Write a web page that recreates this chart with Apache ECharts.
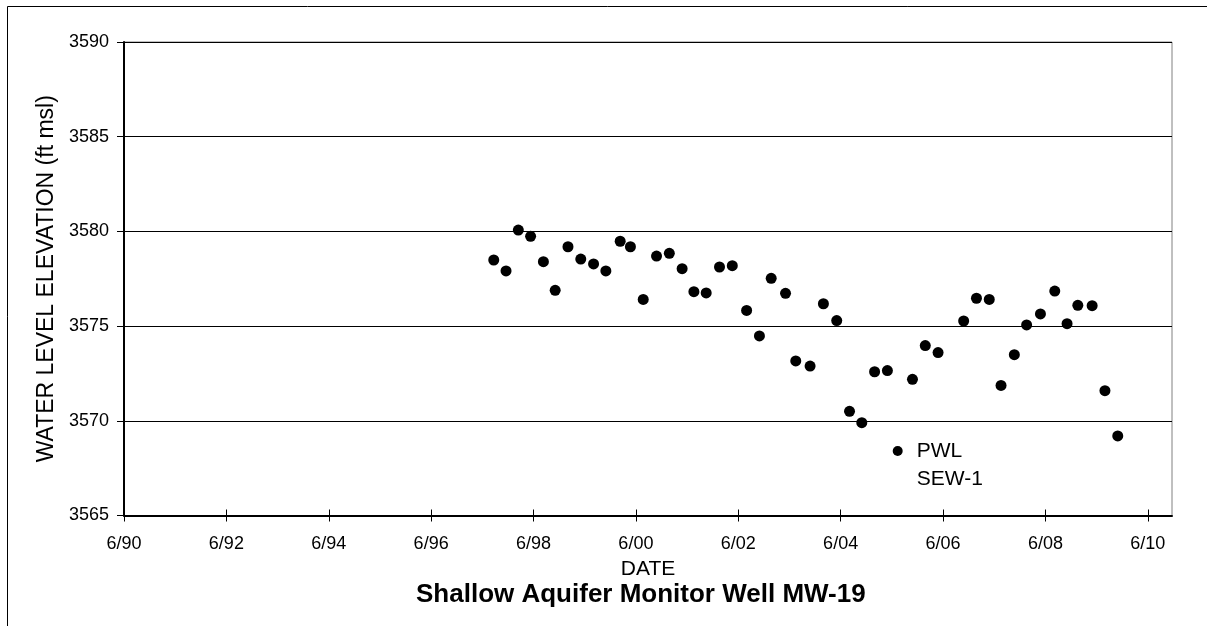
<!DOCTYPE html>
<html>
<head>
<meta charset="utf-8">
<script src="https://cdn.jsdelivr.net/npm/echarts@6/dist/echarts.min.js"></script>
<style>
html,body{margin:0;padding:0;background:#fff;}
#chart{width:1207px;height:626px;}
</style>
</head>
<body>
<div id="chart"></div>
<script>
// Sample dates as decimal years
const DATES = [1997.64,1997.88,1998.12,1998.36,1998.61,1998.84,1999.09,1999.34,1999.59,1999.83,
  2000.11,2000.31,2000.56,2000.82,2001.07,2001.32,2001.55,2001.79,2002.05,2002.30,
  2002.58,2002.83,2003.06,2003.34,2003.54,2003.82,2004.08,2004.34,2004.59,2004.83,
  2005.08,2005.33,2005.82,2006.07,2006.32,2006.82,2007.07,2007.32,2007.55,2007.81,
  2008.05,2008.32,2008.60,2008.84,2009.05,2009.33,2009.58,2009.83];
// Water level elevation (ft msl)
const ELEVATION = [3578.49,3577.91,3580.07,3579.74,3578.40,3576.89,3579.19,3578.54,3578.28,3577.91,
  3579.48,3579.19,3576.41,3578.70,3578.84,3578.03,3576.82,3576.75,3578.12,3578.19,
  3575.83,3574.48,3577.52,3576.73,3573.16,3572.89,3576.18,3575.29,3570.50,3569.90,
  3572.59,3572.65,3572.19,3573.97,3573.60,3575.27,3576.47,3576.41,3571.87,3573.49,
  3575.06,3575.64,3576.85,3575.13,3576.10,3576.08,3571.59,3569.20];
// Tick years (ticks fall in June of each year)
const TICK_YEARS = [1990,1992,1994,1996,1998,2000,2002,2004,2006,2008,2010];
const TICK_LABELS = ['6/90','6/92','6/94','6/96','6/98','6/00','6/02','6/04','6/06','6/08','6/10'];
const Y_TICKS = [3565,3570,3575,3580,3585,3590];

const SERIES_NAME = 'PWL SEW-1';
const TITLE = 'Shallow Aquifer Monitor Well MW-19';
const X_NAME = 'DATE';
const Y_NAME = 'WATER LEVEL ELEVATION (ft msl)';

const JUNE = 5/12;
const tickPos = TICK_YEARS.map(y => y + JUNE);
const labelMap = {};
tickPos.forEach((p, i) => { labelMap[p.toFixed(4)] = TICK_LABELS[i]; });
const FONT = "'Liberation Sans', Arial, sans-serif";

const xMin = TICK_YEARS[0] + JUNE;
const xMax = 2010.89;

const chart = echarts.init(document.getElementById('chart'), null, {renderer: 'canvas'});
chart.setOption({
  animation: false,
  backgroundColor: '#fff',
  title: {
    text: TITLE,
    left: 416, top: 582, padding: 0,
    textStyle: {fontFamily: FONT, fontSize: 26, fontWeight: 'bold', color: '#000'}
  },
  legend: {
    data: [SERIES_NAME],
    icon: 'circle',
    left: 892.7, top: 409, padding: 0,
    itemWidth: 10, itemHeight: 10,
    itemStyle: {color: '#000', opacity: 1},
    formatter: n => ' \n' + n.replace(' ', '\n'),
    textStyle: {fontFamily: FONT, fontSize: 21, color: '#000', lineHeight: 28, padding: [0, 0, 0, 9]}
  },
  grid: {
    left: 124, right: 35, top: 42, bottom: 110.5,
    show: true, borderColor: '#808080', borderWidth: 1,
    containLabel: false, outerBoundsMode: 'none'
  },
  xAxis: [{
    type: 'value', min: xMin, max: xMax, position: 'bottom',
    name: X_NAME, nameLocation: 'middle', nameGap: 35,
    nameTextStyle: {fontFamily: FONT, fontSize: 21, color: '#000'},
    axisLine: {show: true, onZero: false, lineStyle: {color: '#000', width: 2}},
    axisTick: {show: true, inside: false, length: 6, customValues: tickPos, lineStyle: {color: '#000', width: 1}},
    axisLabel: {show: true, margin: 20, customValues: tickPos, fontFamily: FONT, fontSize: 18, color: '#000',
      formatter: v => labelMap[v.toFixed(4)] || ''},
    splitLine: {show: false}
  }, {
    type: 'value', min: xMin, max: xMax, position: 'bottom',
    axisLine: {show: false, onZero: false},
    axisTick: {show: true, inside: true, length: 6, customValues: tickPos, lineStyle: {color: '#000', width: 1}},
    axisLabel: {show: false},
    splitLine: {show: false}
  }],
  yAxis: {
    type: 'value', min: Y_TICKS[0], max: Y_TICKS[Y_TICKS.length - 1], interval: 5,
    name: Y_NAME, nameLocation: 'middle', nameGap: 64, nameRotate: 90,
    nameTextStyle: {fontFamily: FONT, fontSize: 23, color: '#000'},
    axisLine: {show: true, onZero: false, lineStyle: {color: '#000', width: 2}},
    axisTick: {show: true, inside: false, length: 7, lineStyle: {color: '#000', width: 1}},
    axisLabel: {margin: 15, fontFamily: FONT, fontSize: 18, color: '#000', formatter: v => String(v)},
    splitLine: {show: true, lineStyle: {color: '#000', width: 1}}
  },
  graphic: [{
    type: 'rect', silent: true, z: -1,
    shape: {x: 7.5, y: 6.5, width: 1300, height: 700},
    style: {fill: 'none', stroke: '#000', lineWidth: 1}
  }],
  series: [{
    name: SERIES_NAME,
    type: 'scatter',
    symbol: 'circle', symbolSize: 11,
    itemStyle: {color: '#000', opacity: 1},
    data: DATES.map((d, i) => [d, ELEVATION[i]])
  }]
});
</script>
</body>
</html>
